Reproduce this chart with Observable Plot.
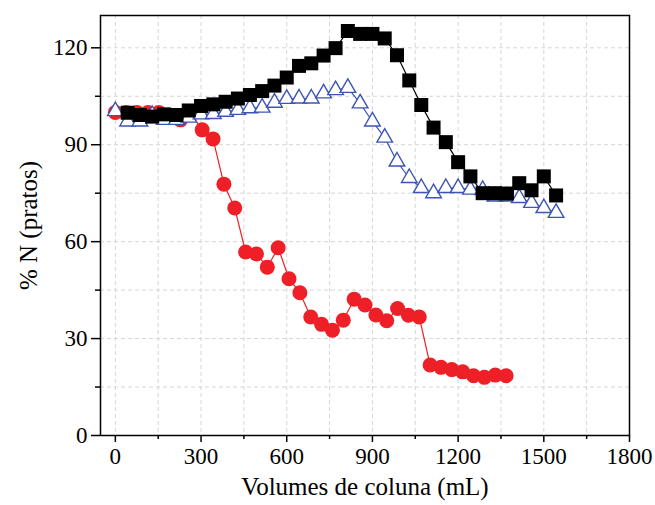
<!DOCTYPE html>
<html>
<head>
<meta charset="utf-8">
<script src="https://cdn.jsdelivr.net/npm/d3@7"></script>
<script src="https://cdn.jsdelivr.net/npm/@observablehq/plot@0.6"></script>
<style>
  html, body { margin: 0; padding: 0; background: #fff; }
  #chart svg, #chart svg text { font-family: "Liberation Serif", "DejaVu Serif", serif !important; }
</style>
</head>
<body>
<div id="chart"></div>
<script>
// Black squares: x = volume (mL), y = % N
const blackX = [43, 86, 129, 171, 214, 257, 300, 343, 386, 429, 471, 514, 557, 600, 643, 686, 729, 771, 814, 857, 900, 943, 986, 1029, 1071, 1114, 1157, 1200, 1243, 1286, 1329, 1371, 1414, 1457, 1500, 1543];
const blackY = [99.9, 99.2, 98.7, 99.4, 99.2, 100.6, 102.0, 102.5, 103.3, 104.3, 105.4, 106.6, 108.3, 110.8, 114.4, 115.2, 117.6, 119.9, 125.2, 124.3, 124.3, 122.9, 117.7, 109.9, 102.3, 95.3, 90.8, 84.6, 80.2, 75.0, 75.0, 74.9, 78.1, 75.9, 80.2, 74.3];

// Blue open triangles
const blueX = [0, 43, 86, 129, 171, 214, 257, 300, 343, 386, 429, 471, 514, 557, 600, 643, 686, 729, 771, 814, 857, 900, 943, 986, 1029, 1071, 1114, 1157, 1200, 1243, 1286, 1329, 1371, 1414, 1457, 1500, 1543];
const blueY = [100.4, 97.2, 97.2, 99.2, 97.7, 97.7, 98.4, 99.4, 99.5, 100.2, 100.8, 101.3, 101.5, 103.0, 104.2, 104.3, 104.3, 105.9, 106.9, 107.6, 102.8, 97.2, 92.2, 84.8, 79.7, 76.6, 75.0, 76.6, 76.6, 76.1, 76.0, 74.0, 74.0, 73.5, 72.0, 70.4, 68.9];

// Red circles
const redX = [0, 38, 76, 114, 152, 190, 228, 266, 304, 342, 380, 418, 456, 494, 532, 570, 608, 646, 684, 722, 760, 798, 836, 874, 912, 950, 988, 1026, 1064, 1102, 1140, 1178, 1216, 1254, 1292, 1330, 1368];
const redY = [100, 100, 100, 100, 100, 99, 97.7, 99.5, 94.6, 91.8, 77.8, 70.4, 56.8, 56.2, 52.1, 58.1, 48.5, 44.2, 36.7, 34.4, 32.6, 35.7, 42.2, 40.4, 37.3, 35.5, 39.3, 37.2, 36.7, 21.8, 21.1, 20.4, 19.7, 18.5, 18.0, 18.7, 18.5];

const xMajor = [0, 300, 600, 900, 1200, 1500, 1800];
const xMinor = [150, 450, 750, 1050, 1350, 1650];
const yMajor = [0, 30, 60, 90, 120];
const yMinor = [15, 45, 75, 105];
const xGrid = [0, 150, 300, 450, 600, 750, 900, 1050, 1200, 1350, 1500, 1650];
const yGrid = [15, 30, 45, 60, 75, 90, 105, 120];

const black = blackX.map((x, i) => ({x, y: blackY[i]}));
const blue = blueX.map((x, i) => ({x, y: blueY[i]}));
const red = redX.map((x, i) => ({x, y: redY[i]}));

const RED = "#ee1f26";
const BLUE = "#3d55b3";
const blank = () => "";

const chart = Plot.plot({
  width: 655,
  height: 505,
  marginLeft: 100,
  marginRight: 26,
  marginTop: 15,
  marginBottom: 70,
  style: "font-family: 'Liberation Serif', 'DejaVu Serif', serif; font-size: 22px; color: #000; background: #fff;",
  x: {domain: [-52, 1800]},
  y: {domain: [0, 130]},
  marks: [
    Plot.ruleX(xGrid, {stroke: "#d6d6d6", strokeDasharray: "4,3", strokeWidth: 1}),
    Plot.ruleY(yGrid, {stroke: "#d6d6d6", strokeDasharray: "4,3", strokeWidth: 1}),
    Plot.line(red, {x: "x", y: "y", stroke: RED, strokeWidth: 1.2}),
    Plot.dot(red, {x: "x", y: "y", r: 7.5, fill: RED, stroke: "none"}),
    Plot.line(blue, {x: "x", y: "y", stroke: BLUE, strokeWidth: 1.2}),
    Plot.dot(blue, {x: "x", y: "y", symbol: "triangle", r: 5.8, fill: "#fff", stroke: BLUE, strokeWidth: 1.4}),
    Plot.line(black, {x: "x", y: "y", stroke: "#000", strokeWidth: 1.2}),
    Plot.dot(black, {x: "x", y: "y", symbol: "square", r: 7.9, fill: "#000", stroke: "none"}),
    Plot.axisX({ticks: xMajor, tickSize: 7, tickPadding: 5, tickFormat: d => String(d), fontSize: 23,
      label: null, strokeWidth: 1.5}),
    Plot.axisX({ticks: xMinor, tickSize: 4, tickFormat: blank, strokeWidth: 1.5, label: null}),
    Plot.axisY({ticks: yMajor, tickSize: 9, tickPadding: 4, tickFormat: d => String(d), fontSize: 23,
      label: null, strokeWidth: 1.5}),
    Plot.axisY({ticks: yMinor, tickSize: 5, tickFormat: blank, strokeWidth: 1.5, label: null}),
    Plot.frame({stroke: "#000", strokeWidth: 1.5}),
    Plot.text(["Volumes de coluna (mL)"], {frameAnchor: "bottom", dy: 59, fontSize: 25, text: d => d}),
    Plot.text(["% N (pratos)"], {frameAnchor: "left", dx: -72, rotate: -90, textAnchor: "middle", fontSize: 25, text: d => d})
  ]
});
document.getElementById("chart").appendChild(chart);
</script>
</body>
</html>
